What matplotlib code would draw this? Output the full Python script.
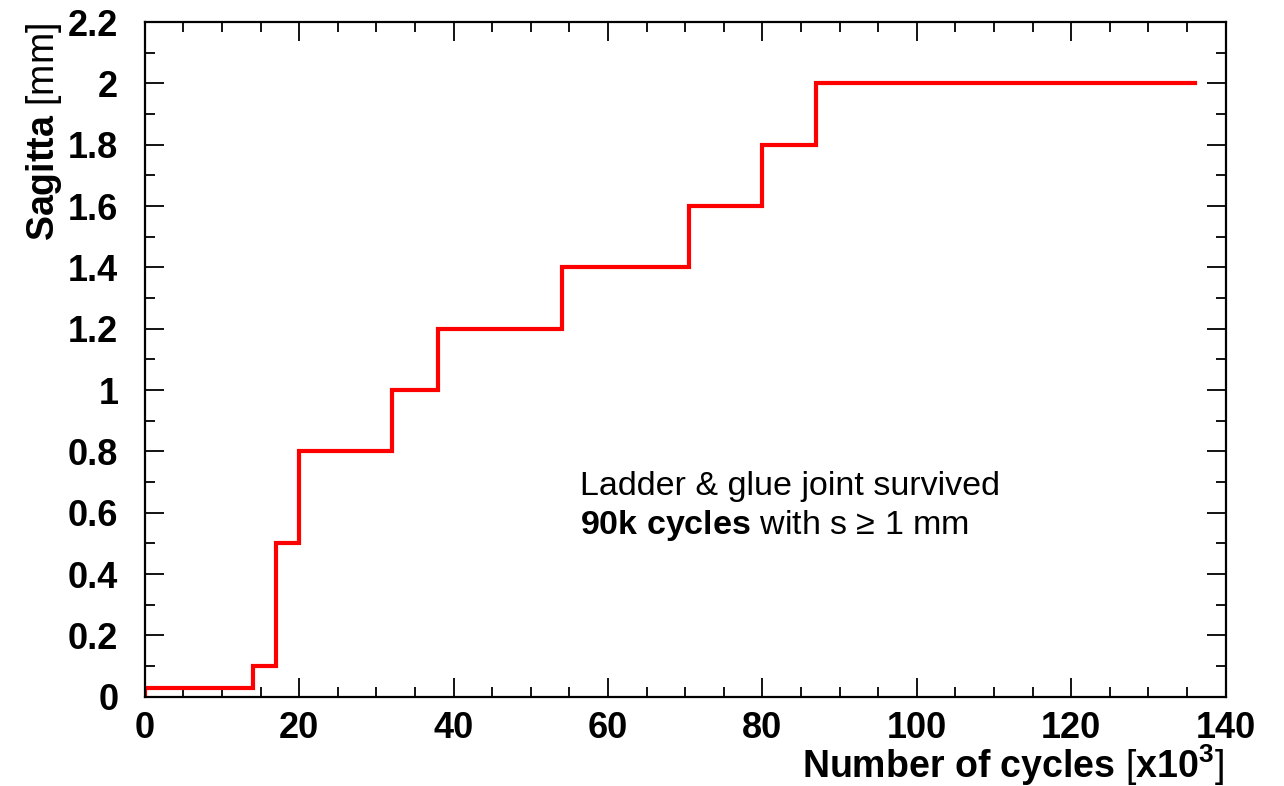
import matplotlib
matplotlib.use("Agg")
import matplotlib.pyplot as plt
from matplotlib.ticker import MultipleLocator

plt.rcParams['font.family'] = ['Liberation Sans', 'DejaVu Sans']
plt.rcParams['mathtext.fontset'] = 'custom'
plt.rcParams['mathtext.rm'] = 'Liberation Sans'
plt.rcParams['mathtext.bf'] = 'Liberation Sans:bold'
plt.rcParams['mathtext.it'] = 'Liberation Sans:italic'

# step edges (x in 10^3 cycles) and sagitta level from each edge
cycles = [0, 0, 14, 17, 20, 32, 38, 54, 70.5, 80, 87, 136]
sagitta = [0, 0.03, 0.1, 0.5, 0.8, 1.0, 1.2, 1.4, 1.6, 1.8, 2.0, 2.0]

fig = plt.figure(figsize=(12.84, 7.86), dpi=100)
ax = fig.add_axes([0.1127, 0.1136, 0.9546 - 0.1127, 0.972 - 0.1136])

ax.step(cycles, sagitta, where='post', color='#ff0000', linewidth=3.0, solid_joinstyle='miter')

ax.set_xlim(0, 140)
ax.set_ylim(0, 2.2)
ax.xaxis.set_major_locator(MultipleLocator(20))
ax.xaxis.set_minor_locator(MultipleLocator(5))
ax.yaxis.set_major_locator(MultipleLocator(0.2))
ax.yaxis.set_minor_locator(MultipleLocator(0.1))

def fmt(v, pos):
    s = f"{v:.1f}"
    if s.endswith(".0"):
        s = s[:-2]
    return s

ax.yaxis.set_major_formatter(plt.FuncFormatter(fmt))
ax.xaxis.set_major_formatter(plt.FuncFormatter(lambda v, p: f"{int(round(v))}"))

ax.tick_params(which='both', direction='in', top=True, right=True, width=1.3, color='black')
ax.tick_params(which='major', length=14)
ax.tick_params(which='minor', length=7)
ax.tick_params(axis='x', which='major', pad=10, labelsize=26)
ax.tick_params(axis='y', which='major', pad=19, labelsize=26)
for lab in ax.get_xticklabels() + ax.get_yticklabels():
    lab.set_fontweight('bold')
for sp in ax.spines.values():
    sp.set_linewidth(1.6)

fig.text(0.9530, 0.0102, r'Number of cycles $[\mathbf{x10^{3}}]$', ha='right', va='baseline',
         fontsize=27, fontweight='bold')
fig.text(0.0185, 0.971, r'Sagitta $[\mathrm{mm}]$', ha='right', va='top', rotation=90,
         fontsize=27, fontweight='bold', rotation_mode='anchor')

ax.text(56.4, 0.658, 'Ladder & glue joint survived', fontsize=24.5, ha='left', va='baseline')
ax.text(56.4, 0.531, r'$\mathbf{90k\ cycles}$ with s ≥ 1 mm', fontsize=24.5, ha='left', va='baseline')

fig.savefig('out.png', dpi=100)
